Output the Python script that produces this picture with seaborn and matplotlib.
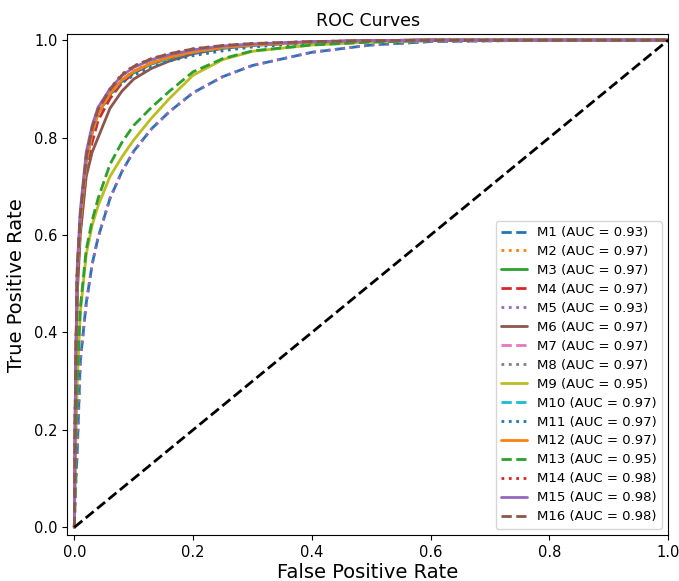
import numpy as np
import pandas as pd
import seaborn as sns
import matplotlib.pyplot as plt

# false positive rate grid shared by all curves
fpr = [0, 0.002, 0.005, 0.01, 0.02, 0.03, 0.04, 0.06, 0.08, 0.10, 0.13,
       0.16, 0.20, 0.25, 0.30, 0.40, 0.50, 0.60, 0.80, 1.0]

models = ["M1", "M2", "M3", "M4", "M5", "M6", "M7", "M8",
          "M9", "M10", "M11", "M12", "M13", "M14", "M15", "M16"]
aucs = [0.93, 0.97, 0.97, 0.97, 0.93, 0.97, 0.97, 0.97,
        0.95, 0.97, 0.97, 0.97, 0.95, 0.98, 0.98, 0.98]

tpr_m1 = [0, 0.08, 0.16, 0.34, 0.46, 0.54, 0.595, 0.675, 0.73, 0.772, 0.818,
          0.853, 0.892, 0.925, 0.948, 0.975, 0.99, 0.997, 1.0, 1.0]
tpr_m2 = [0, 0.30, 0.52, 0.63, 0.75, 0.81, 0.85, 0.89, 0.918, 0.935, 0.953,
          0.965, 0.976, 0.985, 0.990, 0.996, 0.999, 1.0, 1.0, 1.0]
tpr_m3 = [0, 0.30, 0.52, 0.63, 0.75, 0.81, 0.85, 0.888, 0.915, 0.933, 0.951,
          0.963, 0.975, 0.984, 0.990, 0.996, 0.999, 1.0, 1.0, 1.0]
tpr_m4 = [0, 0.28, 0.50, 0.61, 0.73, 0.79, 0.835, 0.88, 0.912, 0.932, 0.952,
          0.965, 0.977, 0.986, 0.991, 0.996, 0.999, 1.0, 1.0, 1.0]
tpr_m5 = [0, 0.08, 0.16, 0.34, 0.46, 0.54, 0.595, 0.675, 0.73, 0.772, 0.818,
          0.853, 0.892, 0.925, 0.948, 0.975, 0.99, 0.997, 1.0, 1.0]
tpr_m6 = [0, 0.28, 0.48, 0.60, 0.72, 0.77, 0.80, 0.86, 0.895, 0.92, 0.942,
          0.957, 0.972, 0.983, 0.989, 0.996, 0.999, 1.0, 1.0, 1.0]
tpr_m7 = [0, 0.30, 0.52, 0.63, 0.75, 0.81, 0.85, 0.89, 0.918, 0.936, 0.954,
          0.966, 0.977, 0.986, 0.991, 0.996, 0.999, 1.0, 1.0, 1.0]
tpr_m8 = [0, 0.30, 0.52, 0.63, 0.75, 0.81, 0.85, 0.89, 0.918, 0.936, 0.954,
          0.966, 0.977, 0.986, 0.991, 0.996, 0.999, 1.0, 1.0, 1.0]
tpr_m9 = [0, 0.15, 0.30, 0.44, 0.56, 0.62, 0.66, 0.72, 0.76, 0.795, 0.84,
          0.88, 0.928, 0.960, 0.977, 0.990, 0.996, 0.999, 1.0, 1.0]
tpr_m10 = [0, 0.30, 0.52, 0.63, 0.75, 0.81, 0.85, 0.89, 0.918, 0.935, 0.952,
           0.964, 0.975, 0.984, 0.990, 0.996, 0.999, 1.0, 1.0, 1.0]
tpr_m11 = [0, 0.30, 0.52, 0.63, 0.75, 0.81, 0.85, 0.887, 0.912, 0.928, 0.945,
           0.957, 0.968, 0.978, 0.986, 0.994, 0.998, 1.0, 1.0, 1.0]
tpr_m12 = [0, 0.30, 0.52, 0.63, 0.75, 0.81, 0.85, 0.89, 0.918, 0.936, 0.953,
           0.965, 0.976, 0.985, 0.990, 0.996, 0.999, 1.0, 1.0, 1.0]
tpr_m13 = [0, 0.15, 0.30, 0.45, 0.57, 0.63, 0.675, 0.745, 0.79, 0.825, 0.862,
           0.895, 0.935, 0.962, 0.978, 0.990, 0.996, 0.999, 1.0, 1.0]
tpr_m14 = [0, 0.31, 0.53, 0.64, 0.76, 0.82, 0.86, 0.90, 0.93, 0.947, 0.962,
           0.972, 0.982, 0.989, 0.993, 0.997, 0.999, 1.0, 1.0, 1.0]
tpr_m15 = [0, 0.32, 0.54, 0.65, 0.77, 0.825, 0.862, 0.90, 0.927, 0.944, 0.960,
           0.970, 0.980, 0.988, 0.992, 0.997, 0.999, 1.0, 1.0, 1.0]
tpr_m16 = [0, 0.31, 0.53, 0.64, 0.76, 0.82, 0.858, 0.898, 0.928, 0.946, 0.962,
           0.972, 0.982, 0.989, 0.993, 0.997, 0.999, 1.0, 1.0, 1.0]

tprs = [tpr_m1, tpr_m2, tpr_m3, tpr_m4, tpr_m5, tpr_m6, tpr_m7, tpr_m8,
        tpr_m9, tpr_m10, tpr_m11, tpr_m12, tpr_m13, tpr_m14, tpr_m15, tpr_m16]

sns.set_style("ticks", {"axes.edgecolor": "black", "xtick.color": "black",
                        "ytick.color": "black", "text.color": "black",
                        "axes.labelcolor": "black"})
plt.rcParams["font.family"] = ["DejaVu Sans"]

colors = sns.color_palette("tab10", 10)
styles = ["--", ":", "-"]

fig, ax = plt.subplots(figsize=(6.79, 5.81), dpi=100)

for i, (name, auc, tpr) in enumerate(zip(models, aucs, tprs)):
    df = pd.DataFrame({"fpr": fpr, "tpr": tpr})
    sns.lineplot(data=df, x="fpr", y="tpr", ax=ax, sort=False,
                 color=colors[i % 10], linestyle=styles[i % 3], linewidth=2,
                 label=f"{name} (AUC = {auc:.2f})")

ax.plot([0, 1], [0, 1], "k--", linewidth=2)

ax.set_xlim(-0.012, 1.0)
ax.set_ylim(-0.016, 1.012)
ax.set_xticks([0, 0.2, 0.4, 0.6, 0.8, 1.0])
ax.set_yticks([0, 0.2, 0.4, 0.6, 0.8, 1.0])
ax.tick_params(labelsize=10.5, color="black")
ax.set_xlabel("False Positive Rate", fontsize=14, labelpad=2)
ax.set_ylabel("True Positive Rate", fontsize=14, labelpad=6)
ax.set_title("ROC Curves", fontsize=12.5)
ax.legend(loc="lower right", fontsize=9.5, borderaxespad=0.5,
          labelspacing=0.45, handlelength=2.0, handletextpad=0.7)

plt.subplots_adjust(left=0.099, right=0.984, top=0.941, bottom=0.079)
plt.savefig("out.png", dpi=100)
